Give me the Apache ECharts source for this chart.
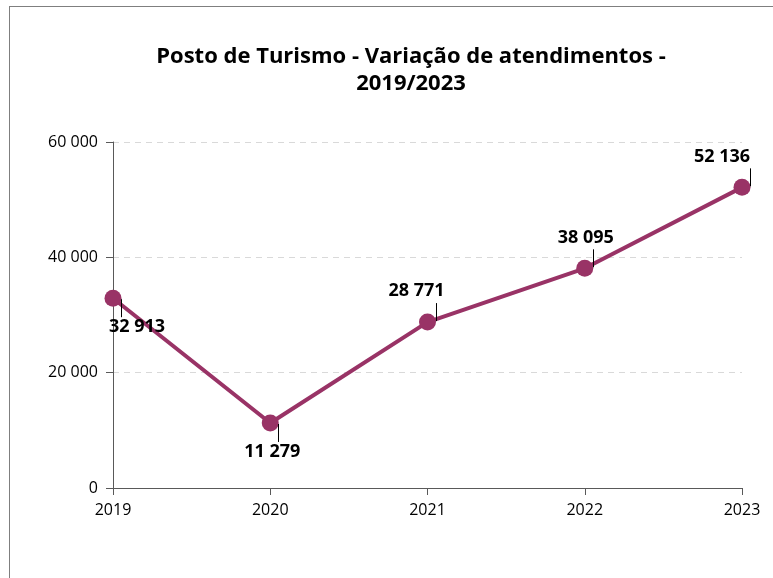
<!DOCTYPE html>
<html>
<head>
<meta charset="utf-8">
<script src="https://cdn.jsdelivr.net/npm/echarts@6/dist/echarts.min.js"></script>
<style>
  html, body { margin: 0; padding: 0; background: #fff; }
  #frame { position: absolute; left: 9px; top: 6px; width: 764px; height: 572px;
           border-left: 1.5px solid #7f7f7f; border-top: 1.5px solid #7f7f7f; }
  #chart { position: absolute; left: 0; top: 0; width: 773px; height: 578px; }
</style>
</head>
<body>
<div id="frame"></div>
<div id="chart"></div>
<script>
// Tourism office: number of visitors served per year
const years = ['2019', '2020', '2021', '2022', '2023'];
const visits = [32913, 11279, 28771, 38095, 52136];
const yTicks = [0, 20000, 40000, 60000];

// Placement of each value label relative to its point (dx, dy) and leader direction
const labelPlace = [
  { dx: 24, dy: 29, lead: 1 },
  { dx: 2, dy: 29, lead: 1 },
  { dx: -11, dy: -31, lead: -1 },
  { dx: 1, dy: -30, lead: -1 },
  { dx: -20, dy: -30, lead: -1 }
];

const fmt = v => String(v).replace(/\B(?=(\d{3})+(?!\d))/g, ' ');
const purple = '#993366';
const font = '"Open Sans", "Noto Sans", sans-serif';

const chart = echarts.init(document.getElementById('chart'), null, { renderer: 'canvas' });

chart.setOption({
  animation: false,
  title: {
    text: 'Posto de Turismo - Variação de atendimentos -\n2019/2023',
    left: 406,
    top: 38,
    textAlign: 'center',
    textStyle: { fontFamily: font, fontWeight: 'bold', fontSize: 22, color: '#000', lineHeight: 27 }
  },
  grid: { left: 113, right: 31, top: 142, bottom: 90, containLabel: false },
  xAxis: {
    type: 'category',
    data: years,
    boundaryGap: false,
    axisLine: { lineStyle: { color: '#595959', width: 1 } },
    axisTick: { show: true, alignWithLabel: true, length: 7, lineStyle: { color: '#595959' } },
    axisLabel: { fontFamily: font, fontSize: 16, color: '#000', margin: 14 }
  },
  yAxis: {
    type: 'value',
    min: yTicks[0],
    max: yTicks[yTicks.length - 1],
    interval: 20000,
    axisLine: { show: true, lineStyle: { color: '#595959', width: 1 } },
    axisTick: { show: true, length: 7, lineStyle: { color: '#595959' } },
    axisLabel: { fontFamily: font, fontSize: 16, color: '#000', margin: 15, formatter: fmt },
    splitLine: { show: true, lineStyle: { color: '#d9d9d9', type: [6, 5], width: 1 } }
  },
  series: [
    {
      type: 'line',
      data: visits,
      symbol: 'circle',
      symbolSize: 17,
      z: 3,
      lineStyle: { color: purple, width: 4 },
      itemStyle: { color: purple },
      label: {
        show: true,
        position: 'inside',
        formatter: p => fmt(p.value),
        fontFamily: font,
        fontWeight: 'bold',
        fontSize: 18,
        color: '#000'
      },
      labelLayout: p => ({ dx: labelPlace[p.dataIndex].dx, dy: labelPlace[p.dataIndex].dy }),
      emphasis: { disabled: true }
    },
    {
      // short leader lines tying each value label to its point
      type: 'custom',
      data: visits.map((v, i) => [i, v]),
      z: 4,
      silent: true,
      renderItem: (params, api) => {
        const i = api.value(0);
        const pt = api.coord([i, api.value(1)]);
        const dir = labelPlace[i].lead;
        const x = Math.round(pt[0] + 8) + 0.5;
        return {
          type: 'line',
          shape: { x1: x, y1: pt[1] + dir * 1, x2: x, y2: pt[1] + dir * 19 },
          style: { stroke: '#000', lineWidth: 1 }
        };
      }
    }
  ]
});
</script>
</body>
</html>
